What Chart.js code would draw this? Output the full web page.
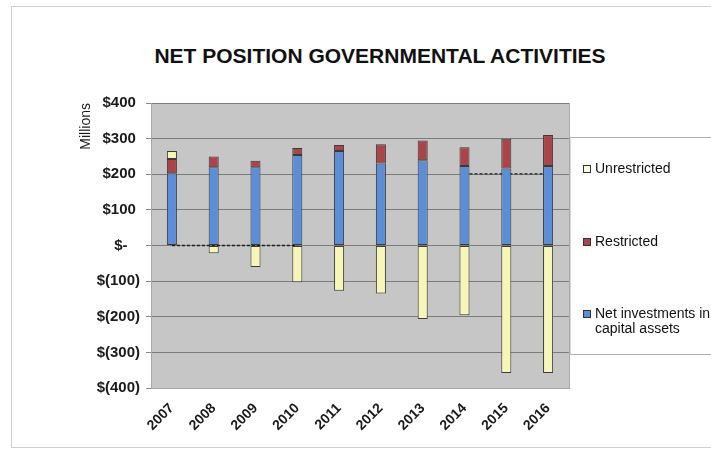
<!DOCTYPE html>
<html>
<head>
<meta charset="utf-8">
<script src="https://cdn.jsdelivr.net/npm/chart.js@4.4.1/dist/chart.umd.min.js"></script>
<style>
    html, body { margin: 0; padding: 0; background: #fff; }
    body { width: 711px; height: 451px; position: relative; overflow: hidden; font-family: "Liberation Sans", Arial, sans-serif; }
    #frame { position: absolute; left: 11px; top: 6px; width: 720px; height: 440px; border: 1px solid #cfcfcf; }
    #title { position: absolute; left: 0; top: 46px; width: 760px; text-align: center; font-weight: bold; font-size: 21px; line-height: 20px; color: #111; }
    #legendBox { position: absolute; left: 570px; top: 137px; width: 150px; height: 216px; border-top: 1px solid #b0b0b0; border-bottom: 1px solid #b0b0b0; border-left: 1px solid #d8d8d8; }
    .item { position: absolute; left: 24px; font-size: 14px; line-height: 15px; color: #111; }
    .swatch { position: absolute; left: -12px; top: 4px; width: 6px; height: 6px; border: 1px solid #333; }
    canvas { position: absolute; left: 0; top: 0; }
</style>
</head>
<body>
<div id="frame"></div>
<div id="title">NET POSITION GOVERNMENTAL ACTIVITIES</div>
<canvas id="netChart" width="711" height="451"></canvas>
<div id="legendBox"></div>
<script>
// values in millions
const years = ['2007', '2008', '2009', '2010', '2011', '2012', '2013', '2014', '2015', '2016'];
const netInvestment = [203, 220, 220, 254, 265, 230, 239, 223, 216, 223];
const restricted = [40, 30, 18, 20, 17, 54, 56, 53, 84, 87];
const unrestricted = [22, -22, -60, -103, -127, -135, -206, -196, -358, -358];
// the dark connector lines Excel left between some columns
const seriesLine = [0, 0, 0, 0, null, null, null, 201, 201, 201];
const yTicks = [-400, -300, -200, -100, 0, 100, 200, 300, 400];

const legendItems = [
    { text: ['Unrestricted'], color: '#fbfbe6', top: 23 },
    { text: ['Restricted'], color: '#a8444a', top: 96 },
    { text: ['Net investments in', 'capital assets'], color: '#5b8ed6', top: 168 }
];

function money(v) {
    if (v === 0) return '$-   ';
    if (v < 0) return '$(' + (-v) + ')';
    return '$' + v + ' ';
}

// grey plot area like the old Excel default
const plotBackground = {
    id: 'plotBackground',
    beforeDraw(chart) {
        const { ctx, chartArea: a } = chart;
        ctx.save();
        ctx.fillStyle = '#c6c6c6';
        ctx.fillRect(a.left, a.top, a.right - a.left, a.bottom - a.top);
        ctx.strokeStyle = '#a8a8a8';
        ctx.strokeRect(a.left + 0.5, a.top + 0.5, a.right - a.left, a.bottom - a.top);
        ctx.restore();
    }
};

document.addEventListener('DOMContentLoaded', () => {
    initNetChart();
    buildLegend();
});

function initNetChart() {
    const ctx = document.getElementById('netChart').getContext('2d');
    const barStyle = {
        borderColor: '#3a3a3a',
        borderWidth: 1,
        borderSkipped: false,
        barPercentage: 0.24,
        categoryPercentage: 1,
        order: 0
    };

    new Chart(ctx, {
        type: 'bar',
        data: {
            labels: years,
            datasets: [
                Object.assign({ label: 'Net investments in capital assets', data: netInvestment, backgroundColor: '#5b8ed6' }, barStyle),
                Object.assign({ label: 'Restricted', data: restricted, backgroundColor: '#a8444a' }, barStyle),
                Object.assign({ label: 'Unrestricted', data: unrestricted, backgroundColor: '#f6f6b8' }, barStyle),
                {
                    type: 'line',
                    label: 'Series lines',
                    data: seriesLine,
                    borderColor: '#1e1e1e',
                    borderWidth: 1.3,
                    borderDash: [3, 2],
                    pointRadius: 0,
                    spanGaps: false,
                    order: 10
                }
            ]
        },
        options: {
            responsive: false,
            animation: false,
            layout: {
                padding: { left: 78, top: 103, right: 142, bottom: 0 }
            },
            plugins: {
                legend: { display: false },
                title: { display: false },
                tooltip: { enabled: false }
            },
            scales: {
                x: {
                    stacked: true,
                    grid: { display: false },
                    border: { color: '#a8a8a8' },
                    ticks: {
                        minRotation: 45,
                        maxRotation: 45,
                        color: '#1a1a1a',
                        padding: 4,
                        font: { family: '"Liberation Sans", Arial', size: 14, weight: 'bold' }
                    },
                    afterFit(scale) { scale.height = 63; }
                },
                y: {
                    stacked: true,
                    min: -400,
                    max: 400,
                    afterBuildTicks(scale) {
                        scale.ticks = yTicks.map(v => ({ value: v }));
                    },
                    grid: {
                        color: '#7c7c7c',
                        tickLength: 5,
                        tickColor: '#8a8a8a'
                    },
                    border: { color: '#a8a8a8' },
                    ticks: {
                        color: '#1a1a1a',
                        padding: 6,
                        font: { family: '"Liberation Sans", Arial', size: 15, weight: 'bold' },
                        callback: (v) => money(v)
                    },
                    title: {
                        display: true,
                        text: 'Millions',
                        align: 'end',
                        color: '#1a1a1a',
                        padding: { top: 0, bottom: 0 },
                        font: { family: '"Liberation Sans", Arial', size: 14 }
                    },
                    afterFit(scale) { scale.width = 73; }
                }
            }
        },
        plugins: [plotBackground]
    });
}

function buildLegend() {
    const box = document.getElementById('legendBox');
    legendItems.forEach(it => {
        const div = document.createElement('div');
        div.className = 'item';
        div.style.top = it.top + 'px';
        div.innerHTML = it.text.join('<br>');
        const sw = document.createElement('span');
        sw.className = 'swatch';
        sw.style.background = it.color;
        div.appendChild(sw);
        box.appendChild(div);
    });
}
</script>
</body>
</html>
